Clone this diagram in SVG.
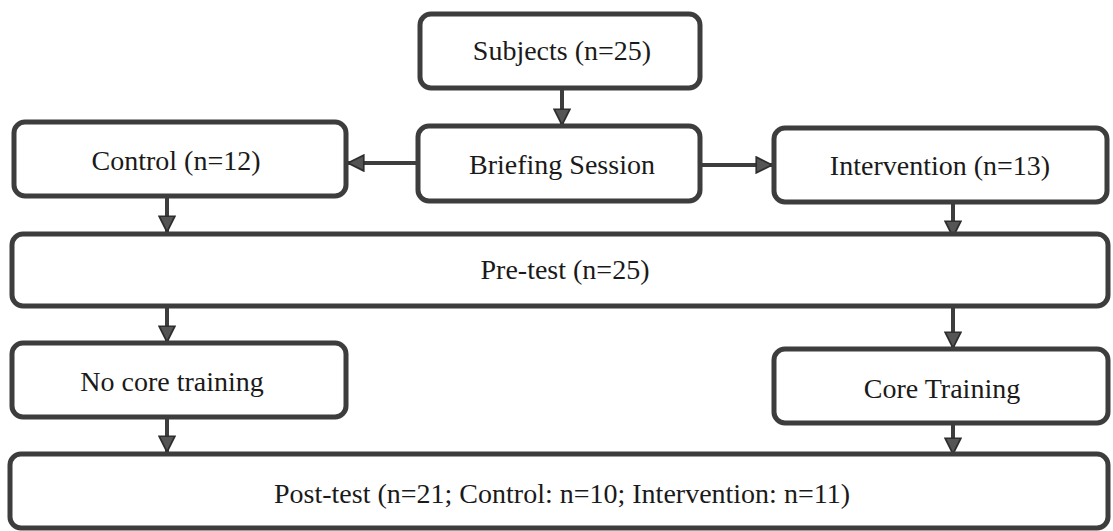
<svg xmlns="http://www.w3.org/2000/svg" width="1113" height="531" viewBox="0 0 1113 531">
  <style>
    .box { fill: #ffffff; stroke: #3d3d3d; stroke-width: 5; }
    .lbl { font-family: "Liberation Serif", "Times New Roman", serif; font-size: 28px; fill: #1a1a1a; text-anchor: middle; }
    .conn { stroke: #3d3d3d; stroke-width: 4; fill: none; }
  </style>
  <defs>
    <marker id="arrow" markerUnits="userSpaceOnUse" markerWidth="18" markerHeight="18" viewBox="0 0 16 16" refX="15" refY="8" orient="auto">
      <path d="M1,1 L15,8 L1,15 Z" fill="#555555" stroke="#2e2e2e" stroke-width="1.5" stroke-linejoin="miter"/>
    </marker>
  </defs>
  <rect width="1113" height="531" fill="#ffffff"/>

  <g id="connectors">
    <line class="conn" x1="562" y1="88" x2="562" y2="125" marker-end="url(#arrow)"/>
    <line class="conn" x1="418" y1="163" x2="348" y2="163" marker-end="url(#arrow)"/>
    <line class="conn" x1="700" y1="165" x2="772" y2="165" marker-end="url(#arrow)"/>
    <line class="conn" x1="167" y1="196" x2="167" y2="232" marker-end="url(#arrow)"/>
    <line class="conn" x1="953" y1="202" x2="953" y2="237" marker-end="url(#arrow)"/>
    <line class="conn" x1="167" y1="305" x2="167" y2="342" marker-end="url(#arrow)"/>
    <line class="conn" x1="953" y1="308" x2="953" y2="348" marker-end="url(#arrow)"/>
    <line class="conn" x1="167" y1="417" x2="167" y2="452" marker-end="url(#arrow)"/>
    <line class="conn" x1="953" y1="423" x2="953" y2="454" marker-end="url(#arrow)"/>
  </g>

  <g id="subjects">
    <rect class="box" x="420" y="14" width="280" height="74" rx="11"/>
    <text class="lbl" x="562" y="60">Subjects (n=25)</text>
  </g>
  <g id="briefing">
    <rect class="box" x="418" y="126" width="282" height="75" rx="11"/>
    <text class="lbl" x="562" y="174">Briefing Session</text>
  </g>
  <g id="control">
    <rect class="box" x="14" y="122" width="332" height="74" rx="11"/>
    <text class="lbl" x="176" y="170">Control (n=12)</text>
  </g>
  <g id="intervention">
    <rect class="box" x="774" y="128" width="333" height="74" rx="11"/>
    <text class="lbl" x="940" y="175">Intervention (n=13)</text>
  </g>
  <g id="pretest">
    <rect class="box" x="12" y="234" width="1096" height="72" rx="11"/>
    <text class="lbl" x="565" y="279">Pre-test (n=25)</text>
  </g>
  <g id="nocore">
    <rect class="box" x="12" y="343" width="334" height="74" rx="11"/>
    <text class="lbl" x="172" y="391">No core training</text>
  </g>
  <g id="core">
    <rect class="box" x="774" y="349" width="334" height="74" rx="11"/>
    <text class="lbl" x="942" y="398">Core Training</text>
  </g>
  <g id="posttest">
    <rect class="box" x="10" y="454" width="1098" height="74" rx="11"/>
    <text class="lbl" x="562" y="503">Post-test (n=21; Control: n=10; Intervention: n=11)</text>
  </g>
</svg>
